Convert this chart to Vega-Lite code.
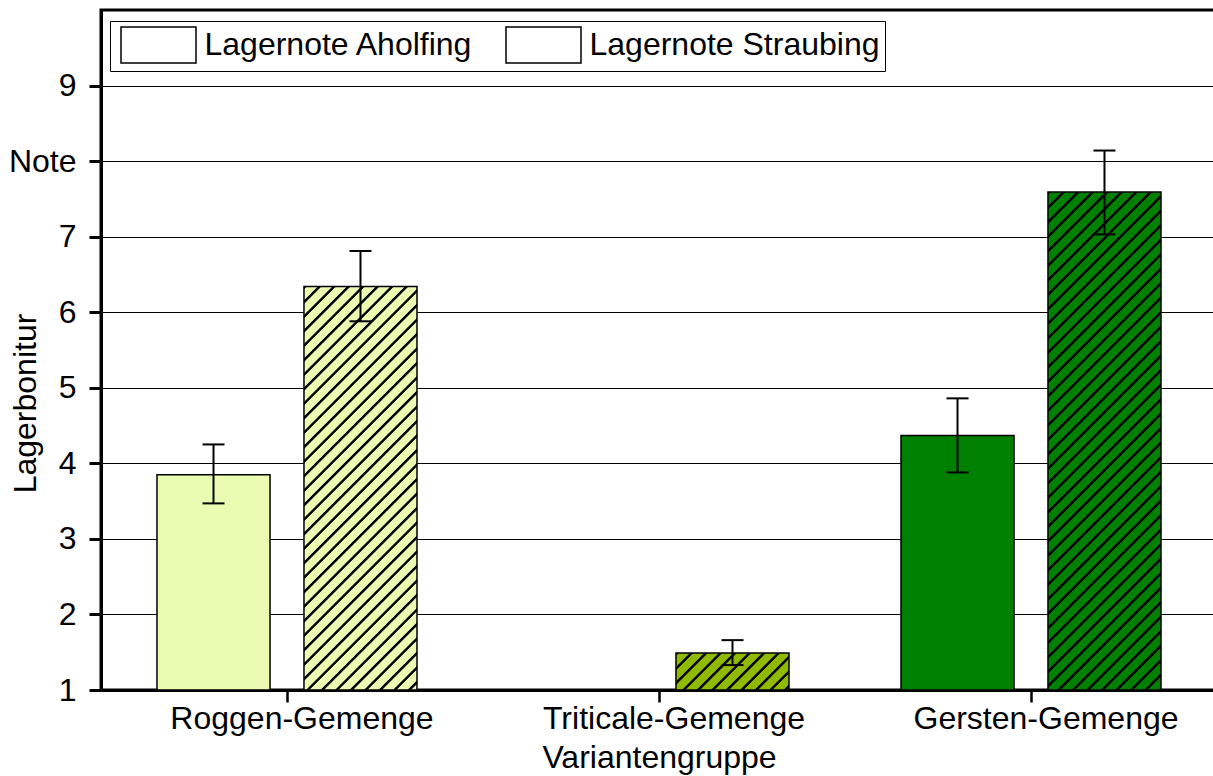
{
  "$schema": "https://vega.github.io/schema/vega-lite/v6.json",
  "autosize": "none",
  "padding": {"left": 101, "top": 10, "right": 0, "bottom": 86},
  "width": 1116,
  "height": 680,
  "background": "white",
  "config": {
    "font": "Liberation Sans",
    "view": {"stroke": "black", "strokeWidth": 3},
    "axis": {
      "labelFont": "Liberation Sans", "titleFont": "Liberation Sans",
      "labelColor": "black", "titleColor": "black", "domainColor": "black", "tickColor": "black",
      "labelFontSize": 32, "titleFontSize": 32, "titleFontWeight": "normal",
      "domainWidth": 3, "tickSize": 12, "labelLimit": 0
    }
  },
  "data": {
    "values": [
      {"gruppe": "Roggen-Gemenge", "ort": "Lagernote Aholfing", "note": 3.85, "lo": 3.47, "hi": 4.25},
      {"gruppe": "Roggen-Gemenge", "ort": "Lagernote Straubing", "note": 6.34, "lo": 5.88, "hi": 6.81},
      {"gruppe": "Triticale-Gemenge", "ort": "Lagernote Aholfing", "note": 1.0, "lo": null, "hi": null},
      {"gruppe": "Triticale-Gemenge", "ort": "Lagernote Straubing", "note": 1.49, "lo": 1.33, "hi": 1.66},
      {"gruppe": "Gersten-Gemenge", "ort": "Lagernote Aholfing", "note": 4.37, "lo": 3.88, "hi": 4.86},
      {"gruppe": "Gersten-Gemenge", "ort": "Lagernote Straubing", "note": 7.59, "lo": 7.03, "hi": 8.14}
    ]
  },
  "encoding": {
    "x": {
      "field": "gruppe", "type": "nominal",
      "sort": ["Roggen-Gemenge", "Triticale-Gemenge", "Gersten-Gemenge"],
      "scale": {"paddingInner": 0, "paddingOuter": 0},
      "axis": {
        "title": "Variantengruppe", "labelAngle": 0, "labelOffset": 15,
        "labelBaseline": "alphabetic", "labelPadding": 26, "tickWidth": 2.5,
        "titleBaseline": "alphabetic", "titleY": 77, "grid": false
      }
    },
    "xOffset": {
      "field": "ort", "type": "nominal",
      "sort": ["Lagernote Aholfing", "Lagernote Straubing"],
      "scale": {"paddingInner": 0.231, "paddingOuter": 0.381}
    }
  },
  "layer": [
    {
      "mark": {"type": "bar", "strokeWidth": 1.5, "opacity": 1, "stroke": "black"},
      "encoding": {
        "y": {
          "field": "note", "type": "quantitative", "title": "Lagerbonitur",
          "scale": {"domain": [1, 10], "nice": false, "zero": false},
          "axis": {
            "values": [1, 2, 3, 4, 5, 6, 7, 8, 9], "format": "d",
            "labelExpr": "datum.value == 8 ? 'Note' : datum.label",
            "grid": true, "gridColor": "black", "gridWidth": 1,
            "tickWidth": 3, "labelPadding": 13,
            "titleBaseline": "alphabetic", "titleX": -66, "titleY": 393
          }
        },
        "y2": {"datum": 1},
        "fill": {
          "condition": [
            {
              "test": "datum.ort === 'Lagernote Straubing' && datum.gruppe === 'Roggen-Gemenge'",
              "value": {
                "gradient": "linear", "x1": 0, "y1": 0, "x2": 0.37327, "y2": 1.33288,
                "stops": [
                  {"offset":0,"color":"#000"},{"offset":0.004,"color":"#000"},{"offset":0.006,"color":"#e9fcb1"},{"offset":0.023,"color":"#e9fcb1"},
                  {"offset":0.025,"color":"#000"},{"offset":0.029,"color":"#000"},{"offset":0.031,"color":"#e9fcb1"},{"offset":0.048,"color":"#e9fcb1"},
                  {"offset":0.05,"color":"#000"},{"offset":0.054,"color":"#000"},{"offset":0.056,"color":"#e9fcb1"},{"offset":0.073,"color":"#e9fcb1"},
                  {"offset":0.075,"color":"#000"},{"offset":0.079,"color":"#000"},{"offset":0.081,"color":"#e9fcb1"},{"offset":0.098,"color":"#e9fcb1"},
                  {"offset":0.1,"color":"#000"},{"offset":0.104,"color":"#000"},{"offset":0.106,"color":"#e9fcb1"},{"offset":0.123,"color":"#e9fcb1"},
                  {"offset":0.125,"color":"#000"},{"offset":0.129,"color":"#000"},{"offset":0.131,"color":"#e9fcb1"},{"offset":0.148,"color":"#e9fcb1"},
                  {"offset":0.15,"color":"#000"},{"offset":0.154,"color":"#000"},{"offset":0.156,"color":"#e9fcb1"},{"offset":0.173,"color":"#e9fcb1"},
                  {"offset":0.175,"color":"#000"},{"offset":0.179,"color":"#000"},{"offset":0.181,"color":"#e9fcb1"},{"offset":0.198,"color":"#e9fcb1"},
                  {"offset":0.2,"color":"#000"},{"offset":0.204,"color":"#000"},{"offset":0.206,"color":"#e9fcb1"},{"offset":0.223,"color":"#e9fcb1"},
                  {"offset":0.225,"color":"#000"},{"offset":0.229,"color":"#000"},{"offset":0.231,"color":"#e9fcb1"},{"offset":0.248,"color":"#e9fcb1"},
                  {"offset":0.25,"color":"#000"},{"offset":0.254,"color":"#000"},{"offset":0.256,"color":"#e9fcb1"},{"offset":0.273,"color":"#e9fcb1"},
                  {"offset":0.275,"color":"#000"},{"offset":0.279,"color":"#000"},{"offset":0.281,"color":"#e9fcb1"},{"offset":0.298,"color":"#e9fcb1"},
                  {"offset":0.3,"color":"#000"},{"offset":0.304,"color":"#000"},{"offset":0.306,"color":"#e9fcb1"},{"offset":0.323,"color":"#e9fcb1"},
                  {"offset":0.325,"color":"#000"},{"offset":0.329,"color":"#000"},{"offset":0.331,"color":"#e9fcb1"},{"offset":0.348,"color":"#e9fcb1"},
                  {"offset":0.35,"color":"#000"},{"offset":0.354,"color":"#000"},{"offset":0.356,"color":"#e9fcb1"},{"offset":0.373,"color":"#e9fcb1"},
                  {"offset":0.375,"color":"#000"},{"offset":0.379,"color":"#000"},{"offset":0.381,"color":"#e9fcb1"},{"offset":0.398,"color":"#e9fcb1"},
                  {"offset":0.4,"color":"#000"},{"offset":0.404,"color":"#000"},{"offset":0.406,"color":"#e9fcb1"},{"offset":0.423,"color":"#e9fcb1"},
                  {"offset":0.425,"color":"#000"},{"offset":0.429,"color":"#000"},{"offset":0.431,"color":"#e9fcb1"},{"offset":0.448,"color":"#e9fcb1"},
                  {"offset":0.45,"color":"#000"},{"offset":0.454,"color":"#000"},{"offset":0.456,"color":"#e9fcb1"},{"offset":0.473,"color":"#e9fcb1"},
                  {"offset":0.475,"color":"#000"},{"offset":0.479,"color":"#000"},{"offset":0.481,"color":"#e9fcb1"},{"offset":0.498,"color":"#e9fcb1"},
                  {"offset":0.5,"color":"#000"},{"offset":0.504,"color":"#000"},{"offset":0.506,"color":"#e9fcb1"},{"offset":0.523,"color":"#e9fcb1"},
                  {"offset":0.525,"color":"#000"},{"offset":0.529,"color":"#000"},{"offset":0.531,"color":"#e9fcb1"},{"offset":0.548,"color":"#e9fcb1"},
                  {"offset":0.55,"color":"#000"},{"offset":0.554,"color":"#000"},{"offset":0.556,"color":"#e9fcb1"},{"offset":0.573,"color":"#e9fcb1"},
                  {"offset":0.575,"color":"#000"},{"offset":0.579,"color":"#000"},{"offset":0.581,"color":"#e9fcb1"},{"offset":0.598,"color":"#e9fcb1"},
                  {"offset":0.6,"color":"#000"},{"offset":0.604,"color":"#000"},{"offset":0.606,"color":"#e9fcb1"},{"offset":0.623,"color":"#e9fcb1"},
                  {"offset":0.625,"color":"#000"},{"offset":0.629,"color":"#000"},{"offset":0.631,"color":"#e9fcb1"},{"offset":0.648,"color":"#e9fcb1"},
                  {"offset":0.65,"color":"#000"},{"offset":0.654,"color":"#000"},{"offset":0.656,"color":"#e9fcb1"},{"offset":0.673,"color":"#e9fcb1"},
                  {"offset":0.675,"color":"#000"},{"offset":0.679,"color":"#000"},{"offset":0.681,"color":"#e9fcb1"},{"offset":0.698,"color":"#e9fcb1"},
                  {"offset":0.7,"color":"#000"},{"offset":0.704,"color":"#000"},{"offset":0.706,"color":"#e9fcb1"},{"offset":0.723,"color":"#e9fcb1"},
                  {"offset":0.725,"color":"#000"},{"offset":0.729,"color":"#000"},{"offset":0.731,"color":"#e9fcb1"},{"offset":0.748,"color":"#e9fcb1"},
                  {"offset":0.75,"color":"#000"},{"offset":0.754,"color":"#000"},{"offset":0.756,"color":"#e9fcb1"},{"offset":0.773,"color":"#e9fcb1"},
                  {"offset":0.775,"color":"#000"},{"offset":0.779,"color":"#000"},{"offset":0.781,"color":"#e9fcb1"},{"offset":0.798,"color":"#e9fcb1"},
                  {"offset":0.8,"color":"#000"},{"offset":0.804,"color":"#000"},{"offset":0.806,"color":"#e9fcb1"},{"offset":0.823,"color":"#e9fcb1"},
                  {"offset":0.825,"color":"#000"},{"offset":0.829,"color":"#000"},{"offset":0.831,"color":"#e9fcb1"},{"offset":0.848,"color":"#e9fcb1"},
                  {"offset":0.85,"color":"#000"},{"offset":0.854,"color":"#000"},{"offset":0.856,"color":"#e9fcb1"},{"offset":0.873,"color":"#e9fcb1"},
                  {"offset":0.875,"color":"#000"},{"offset":0.879,"color":"#000"},{"offset":0.881,"color":"#e9fcb1"},{"offset":0.898,"color":"#e9fcb1"},
                  {"offset":0.9,"color":"#000"},{"offset":0.904,"color":"#000"},{"offset":0.906,"color":"#e9fcb1"},{"offset":0.923,"color":"#e9fcb1"},
                  {"offset":0.925,"color":"#000"},{"offset":0.929,"color":"#000"},{"offset":0.931,"color":"#e9fcb1"},{"offset":0.948,"color":"#e9fcb1"},
                  {"offset":0.95,"color":"#000"},{"offset":0.954,"color":"#000"},{"offset":0.956,"color":"#e9fcb1"},{"offset":1,"color":"#e9fcb1"}
                ]
              }
            },
            {
              "test": "datum.ort === 'Lagernote Straubing' && datum.gruppe === 'Triticale-Gemenge'",
              "value": {
                "gradient": "linear", "x1": 0, "y1": 0, "x2": 1.44867, "y2": 0.47434,
                "stops": [
                  {"offset":0,"color":"#000"},{"offset":0.0128,"color":"#000"},{"offset":0.0192,"color":"#8fba00"},{"offset":0.0736,"color":"#8fba00"},
                  {"offset":0.08,"color":"#000"},{"offset":0.0928,"color":"#000"},{"offset":0.0992,"color":"#8fba00"},{"offset":0.1536,"color":"#8fba00"},
                  {"offset":0.16,"color":"#000"},{"offset":0.1728,"color":"#000"},{"offset":0.1792,"color":"#8fba00"},{"offset":0.2336,"color":"#8fba00"},
                  {"offset":0.24,"color":"#000"},{"offset":0.2528,"color":"#000"},{"offset":0.2592,"color":"#8fba00"},{"offset":0.3136,"color":"#8fba00"},
                  {"offset":0.32,"color":"#000"},{"offset":0.3328,"color":"#000"},{"offset":0.3392,"color":"#8fba00"},{"offset":0.3936,"color":"#8fba00"},
                  {"offset":0.4,"color":"#000"},{"offset":0.4128,"color":"#000"},{"offset":0.4192,"color":"#8fba00"},{"offset":0.4736,"color":"#8fba00"},
                  {"offset":0.48,"color":"#000"},{"offset":0.4928,"color":"#000"},{"offset":0.4992,"color":"#8fba00"},{"offset":0.5536,"color":"#8fba00"},
                  {"offset":0.56,"color":"#000"},{"offset":0.5728,"color":"#000"},{"offset":0.5792,"color":"#8fba00"},{"offset":0.6336,"color":"#8fba00"},
                  {"offset":0.64,"color":"#000"},{"offset":0.6528,"color":"#000"},{"offset":0.6592,"color":"#8fba00"},{"offset":0.7136,"color":"#8fba00"},
                  {"offset":0.72,"color":"#000"},{"offset":0.7328,"color":"#000"},{"offset":0.7392,"color":"#8fba00"},{"offset":0.7936,"color":"#8fba00"},
                  {"offset":0.8,"color":"#000"},{"offset":0.8128,"color":"#000"},{"offset":0.8192,"color":"#8fba00"},{"offset":0.8736,"color":"#8fba00"},
                  {"offset":0.88,"color":"#000"},{"offset":0.8928,"color":"#000"},{"offset":0.8992,"color":"#8fba00"},{"offset":1,"color":"#8fba00"}
                ]
              }
            },
            {
              "test": "datum.ort === 'Lagernote Straubing' && datum.gruppe === 'Gersten-Gemenge'",
              "value": {
                "gradient": "linear", "x1": 0, "y1": 0, "x2": 0.31428, "y2": 1.38478,
                "stops": [
                  {"offset":0,"color":"#000"},{"offset":0.0032,"color":"#000"},{"offset":0.0048,"color":"#008000"},{"offset":0.0184,"color":"#008000"},
                  {"offset":0.02,"color":"#000"},{"offset":0.0232,"color":"#000"},{"offset":0.0248,"color":"#008000"},{"offset":0.0384,"color":"#008000"},
                  {"offset":0.04,"color":"#000"},{"offset":0.0432,"color":"#000"},{"offset":0.0448,"color":"#008000"},{"offset":0.0584,"color":"#008000"},
                  {"offset":0.06,"color":"#000"},{"offset":0.0632,"color":"#000"},{"offset":0.0648,"color":"#008000"},{"offset":0.0784,"color":"#008000"},
                  {"offset":0.08,"color":"#000"},{"offset":0.0832,"color":"#000"},{"offset":0.0848,"color":"#008000"},{"offset":0.0984,"color":"#008000"},
                  {"offset":0.1,"color":"#000"},{"offset":0.1032,"color":"#000"},{"offset":0.1048,"color":"#008000"},{"offset":0.1184,"color":"#008000"},
                  {"offset":0.12,"color":"#000"},{"offset":0.1232,"color":"#000"},{"offset":0.1248,"color":"#008000"},{"offset":0.1384,"color":"#008000"},
                  {"offset":0.14,"color":"#000"},{"offset":0.1432,"color":"#000"},{"offset":0.1448,"color":"#008000"},{"offset":0.1584,"color":"#008000"},
                  {"offset":0.16,"color":"#000"},{"offset":0.1632,"color":"#000"},{"offset":0.1648,"color":"#008000"},{"offset":0.1784,"color":"#008000"},
                  {"offset":0.18,"color":"#000"},{"offset":0.1832,"color":"#000"},{"offset":0.1848,"color":"#008000"},{"offset":0.1984,"color":"#008000"},
                  {"offset":0.2,"color":"#000"},{"offset":0.2032,"color":"#000"},{"offset":0.2048,"color":"#008000"},{"offset":0.2184,"color":"#008000"},
                  {"offset":0.22,"color":"#000"},{"offset":0.2232,"color":"#000"},{"offset":0.2248,"color":"#008000"},{"offset":0.2384,"color":"#008000"},
                  {"offset":0.24,"color":"#000"},{"offset":0.2432,"color":"#000"},{"offset":0.2448,"color":"#008000"},{"offset":0.2584,"color":"#008000"},
                  {"offset":0.26,"color":"#000"},{"offset":0.2632,"color":"#000"},{"offset":0.2648,"color":"#008000"},{"offset":0.2784,"color":"#008000"},
                  {"offset":0.28,"color":"#000"},{"offset":0.2832,"color":"#000"},{"offset":0.2848,"color":"#008000"},{"offset":0.2984,"color":"#008000"},
                  {"offset":0.3,"color":"#000"},{"offset":0.3032,"color":"#000"},{"offset":0.3048,"color":"#008000"},{"offset":0.3184,"color":"#008000"},
                  {"offset":0.32,"color":"#000"},{"offset":0.3232,"color":"#000"},{"offset":0.3248,"color":"#008000"},{"offset":0.3384,"color":"#008000"},
                  {"offset":0.34,"color":"#000"},{"offset":0.3432,"color":"#000"},{"offset":0.3448,"color":"#008000"},{"offset":0.3584,"color":"#008000"},
                  {"offset":0.36,"color":"#000"},{"offset":0.3632,"color":"#000"},{"offset":0.3648,"color":"#008000"},{"offset":0.3784,"color":"#008000"},
                  {"offset":0.38,"color":"#000"},{"offset":0.3832,"color":"#000"},{"offset":0.3848,"color":"#008000"},{"offset":0.3984,"color":"#008000"},
                  {"offset":0.4,"color":"#000"},{"offset":0.4032,"color":"#000"},{"offset":0.4048,"color":"#008000"},{"offset":0.4184,"color":"#008000"},
                  {"offset":0.42,"color":"#000"},{"offset":0.4232,"color":"#000"},{"offset":0.4248,"color":"#008000"},{"offset":0.4384,"color":"#008000"},
                  {"offset":0.44,"color":"#000"},{"offset":0.4432,"color":"#000"},{"offset":0.4448,"color":"#008000"},{"offset":0.4584,"color":"#008000"},
                  {"offset":0.46,"color":"#000"},{"offset":0.4632,"color":"#000"},{"offset":0.4648,"color":"#008000"},{"offset":0.4784,"color":"#008000"},
                  {"offset":0.48,"color":"#000"},{"offset":0.4832,"color":"#000"},{"offset":0.4848,"color":"#008000"},{"offset":0.4984,"color":"#008000"},
                  {"offset":0.5,"color":"#000"},{"offset":0.5032,"color":"#000"},{"offset":0.5048,"color":"#008000"},{"offset":0.5184,"color":"#008000"},
                  {"offset":0.52,"color":"#000"},{"offset":0.5232,"color":"#000"},{"offset":0.5248,"color":"#008000"},{"offset":0.5384,"color":"#008000"},
                  {"offset":0.54,"color":"#000"},{"offset":0.5432,"color":"#000"},{"offset":0.5448,"color":"#008000"},{"offset":0.5584,"color":"#008000"},
                  {"offset":0.56,"color":"#000"},{"offset":0.5632,"color":"#000"},{"offset":0.5648,"color":"#008000"},{"offset":0.5784,"color":"#008000"},
                  {"offset":0.58,"color":"#000"},{"offset":0.5832,"color":"#000"},{"offset":0.5848,"color":"#008000"},{"offset":0.5984,"color":"#008000"},
                  {"offset":0.6,"color":"#000"},{"offset":0.6032,"color":"#000"},{"offset":0.6048,"color":"#008000"},{"offset":0.6184,"color":"#008000"},
                  {"offset":0.62,"color":"#000"},{"offset":0.6232,"color":"#000"},{"offset":0.6248,"color":"#008000"},{"offset":0.6384,"color":"#008000"},
                  {"offset":0.64,"color":"#000"},{"offset":0.6432,"color":"#000"},{"offset":0.6448,"color":"#008000"},{"offset":0.6584,"color":"#008000"},
                  {"offset":0.66,"color":"#000"},{"offset":0.6632,"color":"#000"},{"offset":0.6648,"color":"#008000"},{"offset":0.6784,"color":"#008000"},
                  {"offset":0.68,"color":"#000"},{"offset":0.6832,"color":"#000"},{"offset":0.6848,"color":"#008000"},{"offset":0.6984,"color":"#008000"},
                  {"offset":0.7,"color":"#000"},{"offset":0.7032,"color":"#000"},{"offset":0.7048,"color":"#008000"},{"offset":0.7184,"color":"#008000"},
                  {"offset":0.72,"color":"#000"},{"offset":0.7232,"color":"#000"},{"offset":0.7248,"color":"#008000"},{"offset":0.7384,"color":"#008000"},
                  {"offset":0.74,"color":"#000"},{"offset":0.7432,"color":"#000"},{"offset":0.7448,"color":"#008000"},{"offset":0.7584,"color":"#008000"},
                  {"offset":0.76,"color":"#000"},{"offset":0.7632,"color":"#000"},{"offset":0.7648,"color":"#008000"},{"offset":0.7784,"color":"#008000"},
                  {"offset":0.78,"color":"#000"},{"offset":0.7832,"color":"#000"},{"offset":0.7848,"color":"#008000"},{"offset":0.7984,"color":"#008000"},
                  {"offset":0.8,"color":"#000"},{"offset":0.8032,"color":"#000"},{"offset":0.8048,"color":"#008000"},{"offset":0.8184,"color":"#008000"},
                  {"offset":0.82,"color":"#000"},{"offset":0.8232,"color":"#000"},{"offset":0.8248,"color":"#008000"},{"offset":0.8384,"color":"#008000"},
                  {"offset":0.84,"color":"#000"},{"offset":0.8432,"color":"#000"},{"offset":0.8448,"color":"#008000"},{"offset":0.8584,"color":"#008000"},
                  {"offset":0.86,"color":"#000"},{"offset":0.8632,"color":"#000"},{"offset":0.8648,"color":"#008000"},{"offset":0.8784,"color":"#008000"},
                  {"offset":0.88,"color":"#000"},{"offset":0.8832,"color":"#000"},{"offset":0.8848,"color":"#008000"},{"offset":0.8984,"color":"#008000"},
                  {"offset":0.9,"color":"#000"},{"offset":0.9032,"color":"#000"},{"offset":0.9048,"color":"#008000"},{"offset":1,"color":"#008000"}
                ]
              }
            },
            {"test": "datum.gruppe === 'Roggen-Gemenge'", "value": "#e9fcb1"},
            {"test": "datum.gruppe === 'Triticale-Gemenge'", "value": "#8fba00"},
            {"test": "datum.gruppe === 'Gersten-Gemenge'", "value": "#008000"}
          ],
          "field": "ort", "type": "nominal",
          "scale": {"domain": ["Lagernote Aholfing", "Lagernote Straubing"], "range": ["white", "white"]},
          "legend": {
            "orient": "none", "legendX": 9, "legendY": 11, "direction": "horizontal", "title": null,
            "strokeColor": "black", "fillColor": "white", "padding": 5,
            "labelFont": "Liberation Sans", "labelFontSize": 32, "labelColor": "black", "labelLimit": 0,
            "symbolType": "M-2.083,-1H2.083V1H-2.083Z", "symbolSize": 1296,
            "symbolStrokeWidth": 1.5, "symbolStrokeColor": "black",
            "symbolOffset": 24.5, "labelOffset": 27, "columnPadding": 26,
            "encode": {
              "symbols": {
                "stroke": {"value": "black"},
                "strokeWidth": {"value": 1.5},
                "fill": {
                  "value": {
                    "expr": "datum.value === 'Lagernote Straubing' ? {gradient: 'linear', x1: 0, y1: 0, x2: 1.5713, y2: 0.75422, stops: [{offset: 0, color: '#000'}, {offset: 0.016, color: '#000'}, {offset: 0.024, color: '#fff'}, {offset: 0.092, color: '#fff'}, {offset: 0.1, color: '#000'}, {offset: 0.116, color: '#000'}, {offset: 0.124, color: '#fff'}, {offset: 0.192, color: '#fff'}, {offset: 0.2, color: '#000'}, {offset: 0.216, color: '#000'}, {offset: 0.224, color: '#fff'}, {offset: 0.292, color: '#fff'}, {offset: 0.3, color: '#000'}, {offset: 0.316, color: '#000'}, {offset: 0.324, color: '#fff'}, {offset: 0.392, color: '#fff'}, {offset: 0.4, color: '#000'}, {offset: 0.416, color: '#000'}, {offset: 0.424, color: '#fff'}, {offset: 0.492, color: '#fff'}, {offset: 0.5, color: '#000'}, {offset: 0.516, color: '#000'}, {offset: 0.524, color: '#fff'}, {offset: 0.592, color: '#fff'}, {offset: 0.6, color: '#000'}, {offset: 0.616, color: '#000'}, {offset: 0.624, color: '#fff'}, {offset: 0.692, color: '#fff'}, {offset: 0.7, color: '#000'}, {offset: 0.716, color: '#000'}, {offset: 0.724, color: '#fff'}, {offset: 0.792, color: '#fff'}, {offset: 0.8, color: '#000'}, {offset: 0.816, color: '#000'}, {offset: 0.824, color: '#fff'}, {offset: 1, color: '#fff'}]} : 'white'"
                  }
                }
              }
            }
          }
        }
      }
    },
    {
      "transform": [{"filter": "isValid(datum.lo)"}],
      "mark": {"type": "rule", "strokeWidth": 2, "color": "black"},
      "encoding": {
        "y": {"field": "lo", "type": "quantitative", "title": "Lagerbonitur"},
        "y2": {"field": "hi"}
      }
    },
    {
      "transform": [{"filter": "isValid(datum.lo)"}],
      "mark": {"type": "tick", "thickness": 2, "size": 22, "color": "black", "opacity": 1},
      "encoding": {
        "y": {"field": "lo", "type": "quantitative", "title": "Lagerbonitur"}
      }
    },
    {
      "transform": [{"filter": "isValid(datum.hi)"}],
      "mark": {"type": "tick", "thickness": 2, "size": 22, "color": "black", "opacity": 1},
      "encoding": {
        "y": {"field": "hi", "type": "quantitative", "title": "Lagerbonitur"}
      }
    }
  ]
}
